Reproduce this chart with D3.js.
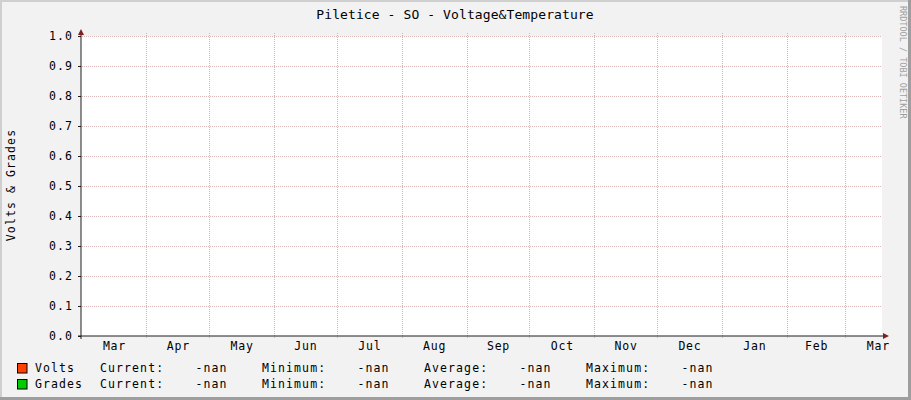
<!DOCTYPE html>
<html lang="en">
<head>
<meta charset="UTF-8">
<title>Piletice - SO - Voltage&amp;Temperature</title>
<script src="https://d3js.org/d3.v7.min.js"></script>
<style>
    body { margin: 0; background: #fff; }
    svg text { font-family: "DejaVu Sans Mono", monospace; fill: #000; }
    .small { font-size: 11.5px; letter-spacing: 1.1px; }
    .month { font-size: 11.5px; letter-spacing: 0.8px; }
    .title { font-size: 13px; letter-spacing: 0.1px; }
    .mark { font-size: 8.5px; fill: #9e9e9e; }
</style>
</head>
<body>
<script>
    // time range of the graph (one year, rrdtool style)
    const startTime = new Date(2012, 1, 29, 18);
    const endTime = new Date(2013, 2, 18, 12);

    const monthLabels = ["Mar", "Apr", "May", "Jun", "Jul", "Aug", "Sep", "Oct", "Nov", "Dec", "Jan", "Feb", "Mar"];
    const yTicks = [0.0, 0.1, 0.2, 0.3, 0.4, 0.5, 0.6, 0.7, 0.8, 0.9, 1.0];

    // series: no samples available (all values are nan)
    const seriesNames = ["Volts", "Grades"];
    const seriesColors = ["#ff4000", "#00cc00"];
    const voltsValues = [];
    const gradesValues = [];
    const statLabels = ["Current:", "Minimum:", "Average:", "Maximum:"];

    const W = 911, H = 400;
    const plotL = 81, plotR = 882, plotT = 36, plotB = 336;

    const svg = d3.select("body").append("svg")
        .attr("width", W)
        .attr("height", H);

    // background + bevel
    svg.append("rect").attr("width", W).attr("height", H).attr("fill", "#f2f2f2");
    svg.append("rect").attr("x", 0).attr("y", 0).attr("width", W).attr("height", 2).attr("fill", "#cfcfcf");
    svg.append("rect").attr("x", 0).attr("y", 0).attr("width", 2).attr("height", H).attr("fill", "#cfcfcf");
    svg.append("rect").attr("x", W - 3).attr("y", 0).attr("width", 3).attr("height", H).attr("fill", "#9e9e9e");
    svg.append("rect").attr("x", 0).attr("y", H - 3).attr("width", W).attr("height", 3).attr("fill", "#9e9e9e");

    // canvas
    svg.append("rect")
        .attr("x", plotL).attr("y", plotT)
        .attr("width", plotR - plotL).attr("height", plotB - plotT)
        .attr("fill", "#fff");

    const x = d3.scaleTime().domain([startTime, endTime]).range([plotL, plotR]);
    const y = d3.scaleLinear().domain([0, 1]).range([plotB, plotT]);

    // horizontal grid
    svg.append("g").selectAll("line")
        .data(yTicks.filter(d => d > 0))
        .enter().append("line")
        .attr("x1", plotL + 1).attr("x2", plotR)
        .attr("y1", d => Math.round(y(d)) + 0.5)
        .attr("y2", d => Math.round(y(d)) + 0.5)
        .attr("stroke", "#d9b7b7")
        .attr("shape-rendering", "crispEdges")
        .attr("stroke-dasharray", "1,1");

    // vertical grid at month starts
    const monthStarts = d3.timeMonth.range(d3.timeMonth.ceil(startTime), endTime);
    svg.append("g").selectAll("line")
        .data(monthStarts.slice(1))
        .enter().append("line")
        .attr("x1", d => Math.round(x(d)) + 0.5)
        .attr("x2", d => Math.round(x(d)) + 0.5)
        .attr("y1", plotT - 3).attr("y2", plotB + 3)
        .attr("stroke", "#f2a6a6")
        .attr("shape-rendering", "crispEdges")
        .attr("stroke-dasharray", "1,1");

    // series lines (nothing drawn: no valid samples)
    const line = d3.line()
        .defined(d => !isNaN(d.v))
        .x(d => x(d.t))
        .y(d => y(d.v));
    [voltsValues, gradesValues].forEach((vals, i) => {
        svg.append("path")
            .datum(vals)
            .attr("d", line)
            .attr("fill", "none")
            .attr("stroke", seriesColors[i]);
    });

    // y axis with labels
    const yAxis = svg.append("g")
        .attr("transform", `translate(${plotL},0)`)
        .call(d3.axisLeft(y).tickValues(yTicks).tickFormat(d3.format(".1f")).tickSize(3).tickPadding(5));
    yAxis.select(".domain").remove();
    yAxis.selectAll(".tick line").attr("stroke", "#1f1f1f");
    yAxis.selectAll("text")
        .attr("class", "small");
    yAxis.attr("font-family", null).attr("font-size", null);

    // month labels centred in each month
    const mids = monthStarts.map(m => new Date((+m + +d3.timeMonth.offset(m, 1)) / 2));
    const xAxis = svg.append("g")
        .attr("transform", `translate(0,${plotB})`)
        .call(d3.axisBottom(x).tickValues(mids).tickSize(0).tickPadding(6)
            .tickFormat((d, i) => monthLabels[i]));
    xAxis.select(".domain").remove();
    xAxis.attr("font-family", null).attr("font-size", null);
    xAxis.selectAll("text")
        .attr("class", "month")
        .attr("dy", null).attr("y", 14);

    // axis lines and arrows
    svg.append("line")
        .attr("x1", plotL - 3).attr("x2", plotR + 1)
        .attr("y1", plotB).attr("y2", plotB)
        .attr("stroke", "#1f1f1f");
    svg.append("line")
        .attr("x1", plotL).attr("x2", plotL)
        .attr("y1", plotB + 3).attr("y2", plotT - 1)
        .attr("stroke", "#1f1f1f");
    svg.append("path")
        .attr("d", `M${plotL - 3},${plotT - 1}L${plotL + 3},${plotT - 1}L${plotL},${plotT - 7}Z`)
        .attr("fill", "#801f1f");
    svg.append("path")
        .attr("d", `M${plotR + 1},${plotB - 3}L${plotR + 1},${plotB + 3}L${plotR + 7},${plotB}Z`)
        .attr("fill", "#801f1f");

    // title
    svg.append("text")
        .attr("class", "title")
        .attr("x", 455).attr("y", 19)
        .attr("text-anchor", "middle")
        .text("Piletice - SO - Voltage&Temperature");

    // vertical axis label
    svg.append("text")
        .attr("class", "small")
        .attr("transform", "translate(15,185) rotate(-90)")
        .attr("text-anchor", "middle")
        .text("Volts & Grades");

    // watermark
    svg.append("text")
        .attr("class", "mark")
        .attr("transform", "translate(899.5,6) rotate(90)")
        .text("RRDTOOL / TOBI OETIKER");

    // legend
    const fmt = v => (v === undefined || isNaN(v)) ? "-nan" : d3.format(".2f")(v);
    const stats = vals => {
        const v = vals.map(d => d.v).filter(d => !isNaN(d));
        return [v.length ? v[v.length - 1] : NaN, d3.min(v), d3.mean(v), d3.max(v)];
    };
    [voltsValues, gradesValues].forEach((vals, i) => {
        const base = 372 + i * 16;
        const g = svg.append("g");
        g.append("rect")
            .attr("x", 17.5).attr("y", base - 8.5)
            .attr("width", 9.5).attr("height", 9.5)
            .attr("fill", seriesColors[i])
            .attr("stroke", "#000");
        g.append("text").attr("class", "small")
            .attr("x", 35).attr("y", base)
            .text(seriesNames[i]);
        const s = stats(vals);
        statLabels.forEach((lab, j) => {
            g.append("text").attr("class", "small")
                .attr("x", 100 + j * 162).attr("y", base)
                .text(lab);
            g.append("text").attr("class", "small")
                .attr("x", 195.5 + j * 162).attr("y", base)
                .text(fmt(s[j]));
        });
    });
</script>
</body>
</html>
